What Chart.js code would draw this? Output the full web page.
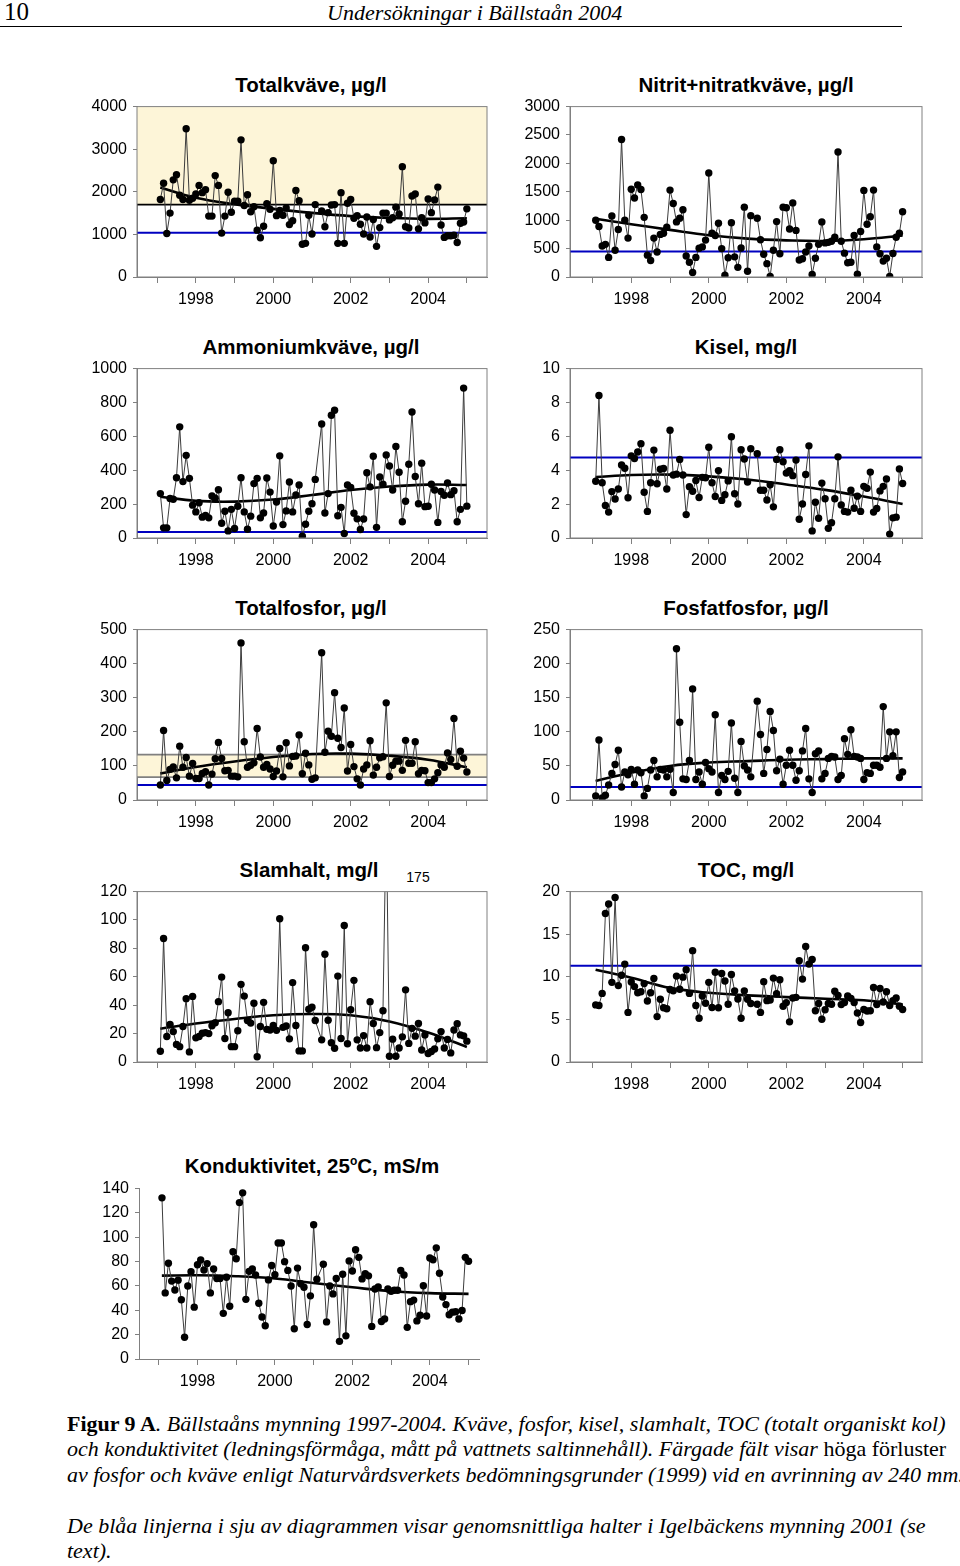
<!DOCTYPE html>
<html>
<head>
<meta charset="utf-8">
<script src="https://cdn.jsdelivr.net/npm/chart.js@4.4.1/dist/chart.umd.min.js"></script>
<style>
  body { margin: 0; background: #fff; width: 960px; height: 1566px; position: relative; overflow: hidden;
         font-family: "Liberation Sans", Arial, sans-serif; color: #000; }
  canvas { position: absolute; }
  .title { position: absolute; font-weight: bold; font-size: 20.5px; white-space: nowrap; transform: translate(-50%, -50%); }
  .serif { position: absolute; font-family: "Liberation Serif", "Times New Roman", serif; white-space: nowrap; }
  .cap { left: 67px; font-size: 21px; font-style: italic; transform-origin: 0 50%; transform: scaleX(1.047); }
  .up { font-style: normal; }
</style>
</head>
<body>
<div class="serif" style="left:4px;top:-2px;font-size:25px">10</div>
<div class="serif" style="left:327px;top:0px;font-size:22px;font-style:italic">Undersökningar i Bällstaån 2004</div>
<div style="position:absolute;left:0;top:26px;width:902px;height:1px;background:#000"></div>

<div class="title" style="left:311px;top:85px">Totalkväve, µg/l</div>
<div class="title" style="left:746px;top:85px">Nitrit+nitratkväve, µg/l</div>
<div class="title" style="left:311px;top:347px">Ammoniumkväve, µg/l</div>
<div class="title" style="left:746px;top:347px">Kisel, mg/l</div>
<div class="title" style="left:311px;top:608px">Totalfosfor, µg/l</div>
<div class="title" style="left:746px;top:608px">Fosfatfosfor, µg/l</div>
<div class="title" style="left:309px;top:870px">Slamhalt, mg/l</div>
<div class="title" style="left:746px;top:870px">TOC, mg/l</div>
<div class="title" style="left:312px;top:1166px">Konduktivitet, 25<sup style="font-size:12px">o</sup>C, mS/m</div>
<div style="position:absolute;left:418px;top:877px;font-size:14px;transform:translate(-50%,-50%)">175</div>

<canvas id="c1"></canvas><canvas id="c2"></canvas>
<canvas id="c3"></canvas><canvas id="c4"></canvas>
<canvas id="c5"></canvas><canvas id="c6"></canvas>
<canvas id="c7"></canvas><canvas id="c8"></canvas>
<canvas id="c9"></canvas>

<div class="serif cap" style="top:1412px"><b class="up">Figur 9 A</b>. Bällstaåns mynning 1997-2004. Kväve, fosfor, kisel, slamhalt, TOC (totalt organiskt kol)</div>
<div class="serif cap" style="top:1437px">och konduktivitet (ledningsförmåga, mått på vattnets saltinnehåll). Färgade fält visar <span class="up">höga förluster</span></div>
<div class="serif cap" style="top:1463px">av fosfor och kväve enligt Naturvårdsverkets bedömningsgrunder (1999) vid en avrinning av 240 mm.</div>
<div class="serif cap" style="top:1514px">De blåa linjerna i sju av diagrammen visar genomsnittliga halter i Igelbäckens mynning 2001 (se</div>
<div class="serif cap" style="top:1539px">text).</div>

<script>
// Years on the x axis, labels only on even years
const yearTicks = [1997, 1998, 1999, 2000, 2001, 2002, 2003, 2004, 2005];
const yearLabels = [1998, 2000, 2002, 2004];
const trendYears = [1997.08, 1998, 1999, 2000, 2001, 2002, 2003, 2004, 2005];

// Monthly samples Feb 1997 - Jan 2005, March 2001 missing
const sampleDates = [];
for (let y = 1997; y <= 2005; y++) {
  for (let m = 1; m <= 12; m++) {
    if (y === 1997 && m === 1) continue;
    if (y === 2005 && m > 1) continue;
    if (y === 2001 && m === 3) continue;
    sampleDates.push(y + (m - 1) / 12);
  }
}

const totN = [1820, 2200, 1020, 1500, 2280, 2400, 1920, 1820, 3480, 1800, 1850, 1950, 2150, 1980, 2050, 1430, 1430, 2380, 2150, 1030,
  1430, 1990, 1520, 1780, 1780, 3220, 1680, 1930, 1530, 1650, 1100, 920, 1190, 1720, 1590, 2730, 1440, 1560, 1450, 1620,
  1230, 1320, 2030, 1790, 770, 790, 1450, 1010, 1700, 1550, 1180, 1510, 1690, 1700, 790, 1980, 790, 1730, 1820, 1380,
  1440, 1240, 1010, 1410, 940, 1350, 720, 1160, 1500, 1500, 1340, 1390, 1640, 1480, 2590, 1180, 1150, 1900, 1950, 1130,
  1390, 1270, 1830, 1510, 1810, 2110, 1220, 930, 970, 970, 980, 810, 1260, 1290, 1600];
const totNTrend = [2100, 1860, 1710, 1600, 1505, 1430, 1385, 1365, 1380];

const no3N = [1000, 890, 545, 575, 345, 1075, 470, 835, 2420, 1000, 685, 1545, 1390, 1620, 1540, 1050, 385, 290, 685, 440,
  750, 770, 875, 1530, 1295, 970, 1035, 1185, 370, 260, 80, 345, 505, 530, 650, 1830, 770, 730, 945, 500,
  30, 340, 955, 355, 170, 510, 1230, 100, 1080, 1035, 655, 400, 235, 10, 470, 975, 410, 1230, 1220, 845,
  1305, 820, 300, 320, 440, 545, 45, 330, 575, 970, 600, 610, 630, 700, 2200, 630, 420, 250, 260, 730,
  50, 800, 1525, 930, 1060, 1530, 530, 410, 280, 330, 10, 415, 700, 770, 1150];
const no3NTrend = [1025, 930, 830, 735, 675, 645, 635, 665, 730];

const nh4N = [262, 60, 60, 233, 229, 356, 656, 333, 488, 352, 194, 154, 208, 123, 133, 119, 248, 235, 285, 87,
  158, 42, 169, 56, 187, 356, 154, 52, 129, 321, 352, 119, 148, 354, 271, 71, 212, 485, 79, 160,
  331, 154, 254, 313, 10, 81, 158, 202, 346, 673, 148, 262, 725, 754, 131, 181, 27, 313, 298, 146,
  113, 50, 112, 385, 302, 483, 63, 360, 317, 490, 425, 283, 540, 388, 96, 217, 435, 744, 363, 202,
  442, 185, 187, 317, 283, 92, 275, 252, 325, 256, 279, 96, 169, 885, 188];
const nh4NTrend = [244, 219, 215, 227, 254, 283, 304, 315, 313];

const kisel = [3.35, 8.41, 3.26, 1.92, 1.53, 2.74, 2.30, 2.89, 4.31, 4.12, 2.38, 4.85, 4.69, 5.08, 5.57, 2.70, 1.57, 3.26, 5.19, 3.20,
  4.06, 4.10, 2.89, 6.36, 3.72, 3.77, 4.64, 3.72, 1.38, 3.03, 2.76, 3.39, 2.39, 3.58, 3.56, 5.36, 3.26, 2.45, 3.98, 2.22,
  2.55, 3.37, 5.98, 2.61, 2.01, 5.21, 4.66, 3.30, 5.27, 4.98, 2.82, 2.82, 2.24, 3.14, 1.84, 4.64, 5.21, 4.50, 3.83, 3.98,
  3.68, 4.60, 1.11, 2.01, 3.75, 5.44, 0.42, 2.11, 1.17, 3.24, 2.32, 0.57, 0.90, 2.32, 4.79, 1.95, 1.57, 1.53, 2.82, 1.76,
  2.47, 1.57, 3.05, 2.93, 3.89, 1.53, 1.74, 2.78, 3.05, 3.49, 0.23, 1.19, 1.23, 4.08, 3.22];
const kiselTrend = [3.6, 3.72, 3.74, 3.64, 3.45, 3.16, 2.84, 2.45, 2.01];

const totP = [44, 204, 57, 90, 97, 65, 158, 96, 125, 70, 107, 63, 63, 78, 83, 44, 76, 121, 169, 122,
  86, 87, 70, 70, 68, 461, 171, 96, 102, 109, 210, 126, 96, 104, 91, 69, 85, 151, 68, 168,
  100, 128, 129, 191, 77, 137, 103, 61, 65, 432, 140, 202, 187, 315, 181, 154, 270, 85, 163, 98,
  62, 44, 91, 103, 174, 73, 96, 124, 127, 285, 69, 102, 114, 114, 87, 175, 108, 108, 171, 77,
  87, 86, 51, 51, 62, 80, 103, 96, 138, 119, 239, 99, 143, 123, 82];
const totPTrend = [78, 97, 113, 126, 135, 136, 130, 118, 96];

const po4P = [6, 88, 3, 7, 22, 39, 52, 73, 19, 41, 37, 45, 23, 44, 40, 6, 17, 44, 58, 34,
  45, 44, 34, 45, 11, 222, 114, 31, 30, 58, 163, 30, 41, 23, 55, 46, 41, 125, 11, 36,
  30, 42, 113, 32, 11, 86, 50, 44, 34, 145, 96, 39, 74, 130, 102, 43, 60, 23, 51, 73,
  51, 29, 43, 72, 105, 31, 11, 68, 72, 31, 39, 61, 64, 63, 30, 36, 90, 67, 103, 64,
  63, 61, 30, 40, 39, 51, 51, 48, 137, 61, 100, 65, 100, 33, 41];
const po4PTrend = [28, 40, 50, 55, 57, 59, 60, 61, 61];

const slam = [7.6, 87, 18, 26.4, 21.4, 12.4, 10.8, 25, 44.6, 7.1, 46.2, 17, 18, 20.2, 20.7, 20, 25.5, 27.6, 42.5, 59.8,
  16.6, 34.7, 10.8, 10.8, 22, 54.7, 46.4, 29.2, 27.4, 41.4, 3.7, 25, 42, 23, 22.5, 25.7, 22.3, 100.9, 24.4, 25.3,
  16.3, 55.9, 25.7, 7.8, 7.8, 80.5, 37.2, 38.6, 29.2, 15.6, 75.9, 29.4, 13.6, 9.7, 60.5, 16.6, 96.1, 12.9, 36.8, 57.5,
  15.6, 9.9, 18.6, 9.9, 42.5, 27.1, 10.1, 20.7, 36.1, 175, 4.1, 16.1, 4.1, 9.9, 17.7, 50.8, 13.1, 23.7, 18.2, 27.1,
  8.5, 19.1, 6, 7.4, 9.2, 16.3, 21.4, 9.9, 15.9, 6.4, 22.5, 26.9, 19.1, 18.4, 14.7];
const slamTrend = [23.4, 27.1, 30.3, 32.9, 33.8, 32.9, 28.5, 20.7, 10.6];

const toc = [6.7, 6.63, 8.05, 17.43, 18.54, 9.35, 19.31, 8.97, 10.19, 11.49, 5.82, 9.39, 8.85, 8.12, 8.24, 9.2, 7.16, 8.12, 9.81, 5.33,
  7.36, 6.36, 6.25, 8.51, 8.35, 10.08, 8.54, 9.96, 10.84, 8.05, 13.07, 6.63, 5.13, 7.74, 6.9, 9.35, 6.4, 10.54, 6.36, 10.38,
  9.5, 6.78, 10.27, 8.35, 7.39, 5.13, 8.35, 7.36, 6.86, 6.78, 5.82, 9.43, 7.2, 7.28, 9.85, 8.01, 9.66, 6.55, 6.97, 4.71,
  7.51, 7.59, 11.88, 9.73, 13.56, 11.49, 12.03, 6.02, 6.86, 5.02, 6.13, 6.86, 6.78, 8.31, 7.82, 6.74, 6.97, 7.74, 7.47, 6.97,
  5.75, 4.64, 6.17, 5.98, 6.02, 8.74, 6.74, 8.62, 7.05, 8.24, 6.63, 7.2, 7.51, 6.55, 6.17];
const tocTrend = [10.84, 9.88, 8.7, 8.12, 7.82, 7.62, 7.43, 7.24, 6.78];

const kond = [132.4, 54.3, 78.7, 64, 56.7, 64.8, 48.7, 17.9, 60, 71.7, 42.6, 77.4, 81.4, 73.1, 78.4, 54.3, 73.9, 66.1, 66.1, 37.5,
  67.2, 43.4, 88.1, 82.4, 128.5, 136.5, 49, 72, 73.9, 69, 45.8, 34.5, 27.3, 65, 76.8, 69.3, 95.3, 95.3, 80, 72.8,
  60, 24.9, 74.7, 61.8, 58.9, 28.4, 51.9, 110.3, 65.6, 77.9, 30.5, 60, 53.5, 66.1, 14.5, 69.6, 19, 80.6, 72.3, 89.7,
  83.5, 65.8, 70.1, 68.3, 26.8, 57.5, 59.2, 30.8, 32.9, 57.5, 55.7, 56.5, 56.5, 72.8, 69, 26, 47.1, 48.4, 31.3, 35.9,
  60.2, 35.3, 83, 81.6, 91.3, 70.4, 50.9, 44.7, 36.4, 38.5, 38.8, 32.9, 39.9, 83.5, 80.3];
const kondTrend = [68.5, 68.8, 68, 66.1, 62.4, 58.9, 55.7, 54.1, 53.5];

// Igelbäcken 2001 (blue) and high-loss limits (coloured fields)
const blueLevels = { totN: 1040, no3N: 450, nh4N: 35, kisel: 4.75, totP: 44, po4P: 19, toc: 11.3 };
const totNBand = [1700, 4000];
const totPBand = [67, 133];

const cream = '#fdf5d8';
const gray = '#808080';
const Y_AXIS_W = 50, X_AXIS_H = 32, PAD_TOP = 12, PAD_RIGHT = 8;

const framePlugin = {
  id: 'frame',
  afterDatasetsDraw(chart, args, opts) {
    if (!opts.show) return;
    const a = chart.chartArea, ctx = chart.ctx;
    ctx.save();
    ctx.strokeStyle = gray;
    ctx.lineWidth = 1;
    ctx.strokeRect(a.left, a.top, a.right - a.left, a.bottom - a.top);
    ctx.restore();
  }
};

function hline(xmin, xmax, v, color, width, order, extra) {
  return Object.assign({
    data: [{ x: xmin, y: v }, { x: xmax, y: v }],
    borderColor: color, borderWidth: width, pointRadius: 0, order: order
  }, extra || {});
}

function panel(id, p) {
  const cv = document.getElementById(id);
  const w = Math.round(p.R - p.L + Y_AXIS_W + PAD_RIGHT);
  const h = Math.round(p.B - p.T + PAD_TOP + X_AXIS_H);
  cv.style.left = (p.L - Y_AXIS_W) + 'px';
  cv.style.top = (p.T - PAD_TOP) + 'px';
  cv.style.width = w + 'px';
  cv.style.height = h + 'px';
  cv.width = w; cv.height = h;

  const datasets = [
    {
      data: sampleDates.map((x, i) => ({ x: x, y: p.values[i] })),
      borderColor: '#3c3c3c', borderWidth: 1, tension: 0,
      pointRadius: 3.7, pointBackgroundColor: '#000', pointBorderWidth: 0, order: 1
    },
    {
      data: trendYears.map((x, i) => ({ x: x, y: p.trend[i] })),
      borderColor: '#000', borderWidth: 2.6, tension: 0.4, pointRadius: 0, order: 2
    }
  ];
  if (p.blue !== undefined) datasets.push(hline(p.xmin, p.xmax, p.blue, '#0000c0', 2, 3));
  if (p.band) {
    datasets.push(hline(p.xmin, p.xmax, p.band[0], p.bandLine, 1.6, 4));
    datasets.push(hline(p.xmin, p.xmax, p.band[1], p.bandLine, p.bandTopW, 5,
      { fill: { value: p.band[0] }, backgroundColor: cream }));
  }

  new Chart(cv, {
    type: 'line',
    data: { datasets: datasets },
    plugins: [framePlugin],
    options: {
      responsive: false,
      animation: false,
      layout: { padding: { top: PAD_TOP, right: PAD_RIGHT, left: 0, bottom: 0 } },
      plugins: { legend: { display: false }, tooltip: { enabled: false }, frame: { show: p.frame } },
      scales: {
        x: {
          type: 'linear', min: p.xmin, max: p.xmax,
          afterBuildTicks: s => { s.ticks = yearTicks.map(v => ({ value: v })); },
          afterFit: s => { s.height = X_AXIS_H; },
          ticks: {
            autoSkip: false, maxRotation: 0, color: '#000', padding: 7,
            font: { family: 'Liberation Sans', size: 16 },
            callback: v => yearLabels.includes(v) ? String(v) : ''
          },
          grid: { drawOnChartArea: false, tickLength: 6, color: gray },
          border: { color: gray }
        },
        y: {
          min: 0, max: p.ymax,
          ticks: {
            stepSize: p.ystep, color: '#000', padding: 6,
            font: { family: 'Liberation Sans', size: 16 },
            callback: v => String(v)
          },
          afterFit: s => { s.width = Y_AXIS_W; },
          grid: { drawOnChartArea: false, tickLength: 4, color: gray },
          border: { color: gray }
        }
      }
    }
  });
}

const LX = [136.7, 486.7, 1996.48, 2005.52];
const RX = [570, 921.7, 1996.42, 2005.5];

panel('c1', { L: LX[0], R: LX[1], xmin: LX[2], xmax: LX[3], T: 103, B: 277, ymax: 4000, ystep: 1000,
  values: totN, trend: totNTrend, blue: blueLevels.totN, band: totNBand, bandLine: '#000', bandTopW: 0, frame: true });
panel('c2', { L: RX[0], R: RX[1], xmin: RX[2], xmax: RX[3], T: 103, B: 277, ymax: 3000, ystep: 500,
  values: no3N, trend: no3NTrend, blue: blueLevels.no3N, frame: true });
panel('c3', { L: LX[0], R: LX[1], xmin: LX[2], xmax: LX[3], T: 365, B: 538, ymax: 1000, ystep: 200,
  values: nh4N, trend: nh4NTrend, blue: blueLevels.nh4N, frame: true });
panel('c4', { L: RX[0], R: RX[1], xmin: RX[2], xmax: RX[3], T: 365, B: 538, ymax: 10, ystep: 2,
  values: kisel, trend: kiselTrend, blue: blueLevels.kisel, frame: true });
panel('c5', { L: LX[0], R: LX[1], xmin: LX[2], xmax: LX[3], T: 626, B: 800, ymax: 500, ystep: 100,
  values: totP, trend: totPTrend, blue: blueLevels.totP, band: totPBand, bandLine: gray, bandTopW: 1.6, frame: true });
panel('c6', { L: RX[0], R: RX[1], xmin: RX[2], xmax: RX[3], T: 626, B: 800, ymax: 250, ystep: 50,
  values: po4P, trend: po4PTrend, blue: blueLevels.po4P, frame: true });
panel('c7', { L: LX[0], R: LX[1], xmin: LX[2], xmax: LX[3], T: 888, B: 1062, ymax: 120, ystep: 20,
  values: slam, trend: slamTrend, frame: true });
panel('c8', { L: RX[0], R: RX[1], xmin: RX[2], xmax: RX[3], T: 888, B: 1062, ymax: 20, ystep: 5,
  values: toc, trend: tocTrend, blue: blueLevels.toc, frame: true });
panel('c9', { L: 139.3, R: 479, xmin: 1996.49, xmax: 2005.27, T: 1185, B: 1359, ymax: 140, ystep: 20,
  values: kond, trend: kondTrend, frame: false });
</script>
</body>
</html>
